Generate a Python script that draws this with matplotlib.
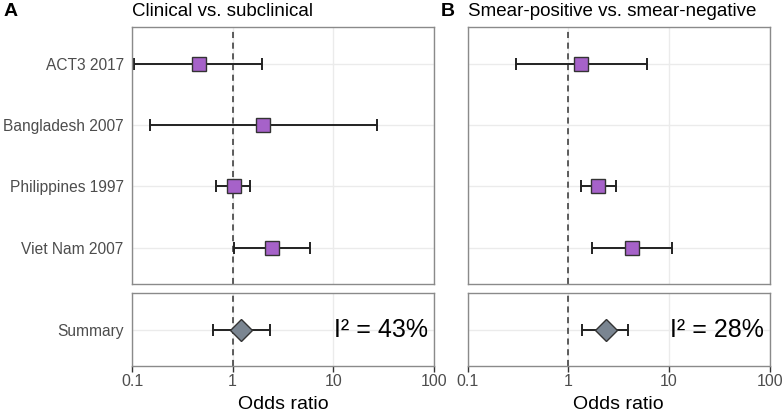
import numpy as np
import matplotlib
matplotlib.use('Agg')
import matplotlib.pyplot as plt

plt.rcParams['font.family'] = ['Liberation Sans', 'DejaVu Sans']

studies = ['ACT3 2017', 'Bangladesh 2007', 'Philippines 1997', 'Viet Nam 2007']

# panel A: clinical vs subclinical
a_or = [0.46, 2.0, 1.02, 2.45]
a_lo = [0.105, 0.15, 0.69, 1.02]
a_hi = [1.95, 27.0, 1.5, 5.9]
a_sum = [1.22, 0.64, 2.36]
a_i2 = 43

# panel B: smear-positive vs smear-negative (no Bangladesh estimate)
b_or = [1.35, np.nan, 1.96, 4.3]
b_lo = [0.30, np.nan, 1.32, 1.7]
b_hi = [6.1, np.nan, 2.95, 10.8]
b_sum = [2.36, 1.36, 3.95]
b_i2 = 28

titles = ['Clinical vs. subclinical', 'Smear-positive vs. smear-negative']
xticks = [0.1, 1, 10, 100]
xticklabels = ['0.1', '1', '10', '100']

purple = '#A662C9'
grey_d = '#7A8591'
border = '#8A8A8A'
gridc = '#EBEBEB'
txtc = '#4D4D4D'

W, H = 783, 415
fig = plt.figure(figsize=(W / 100, H / 100), dpi=100)

lefts = [132, 467.7]
pw = 302
top_y0, top_y1 = 27.3, 284.3
bot_y0, bot_y1 = 293.3, 365.7

panels = [(a_or, a_lo, a_hi, a_sum, a_i2), (b_or, b_lo, b_hi, b_sum, b_i2)]

def style(ax):
    ax.set_xscale('log')
    ax.set_xlim(0.1, 100)
    ax.set_xticks(xticks)
    ax.minorticks_off()
    ax.grid(True, color=gridc, lw=1, zorder=0)
    ax.set_axisbelow(True)
    for s in ax.spines.values():
        s.set_color(border)
        s.set_linewidth(1.0)
    ax.axvline(1, color='#333333', lw=1.1, ls=(0, (4, 3)), zorder=1)

for k, (orv, lo, hi, sm, i2) in enumerate(panels):
    x0 = lefts[k] / W
    # top: individual studies
    ax = fig.add_axes([x0, 1 - top_y1 / H, pw / W, (top_y1 - top_y0) / H])
    style(ax)
    ypos = np.arange(len(studies))[::-1] + 1
    orv = np.array(orv); lo = np.array(lo); hi = np.array(hi)
    ok = ~np.isnan(orv)
    ax.errorbar(orv[ok], ypos[ok], xerr=[orv[ok] - lo[ok], hi[ok] - orv[ok]],
                fmt='none', ecolor='#222222', elinewidth=1.4, capsize=4.2,
                capthick=1.4, zorder=2)
    ax.plot(orv[ok], ypos[ok], 's', ms=10, mfc=purple, mec='#333333',
            mew=1.0, zorder=3)
    ax.set_ylim(0.4, 4.6)
    ax.set_yticks(ypos)
    if k == 0:
        ax.set_yticklabels(studies)
    else:
        ax.set_yticklabels([])
    ax.tick_params(axis='y', length=0, pad=6, labelsize=11.2, labelcolor=txtc)
    ax.tick_params(axis='x', length=0, labelbottom=False)

    # bottom: summary
    bx = fig.add_axes([x0, 1 - bot_y1 / H, pw / W, (bot_y1 - bot_y0) / H])
    style(bx)
    bx.errorbar([sm[0]], [1], xerr=[[sm[0] - sm[1]], [sm[2] - sm[0]]],
                fmt='none', ecolor='#222222', elinewidth=1.4, capsize=4.2,
                capthick=1.4, zorder=2)
    bx.plot([sm[0]], [1], 'D', ms=11.5, mfc=grey_d, mec='#333333', mew=1.0,
            zorder=3)
    bx.set_ylim(0.4, 1.6)
    bx.set_yticks([1])
    if k == 0:
        bx.set_yticklabels(['Summary'])
    else:
        bx.set_yticklabels([])
    bx.tick_params(axis='y', length=0, pad=6, labelsize=11.2, labelcolor=txtc)
    bx.set_xticklabels(xticklabels)
    bx.tick_params(axis='x', length=4, width=1, color='#333333', pad=2,
                   labelsize=11.5, labelcolor=txtc)
    bx.text(30, 1, 'I² = %d%%' % i2, ha='center', va='center', fontsize=18,
            color='black')
    bx.set_xlabel('Odds ratio', fontsize=14, labelpad=5)

    # titles
    fig.text(x0, 1 - 11.5 / H, titles[k], ha='left', va='center',
             fontsize=13.5, color='black')

fig.text(4 / W, 1 - 11.5 / H, 'A', ha='left', va='center', fontsize=14,
         fontweight='bold')
fig.text(441 / W, 1 - 11.5 / H, 'B', ha='left', va='center', fontsize=14,
         fontweight='bold')

fig.savefig('out.png', dpi=100)
